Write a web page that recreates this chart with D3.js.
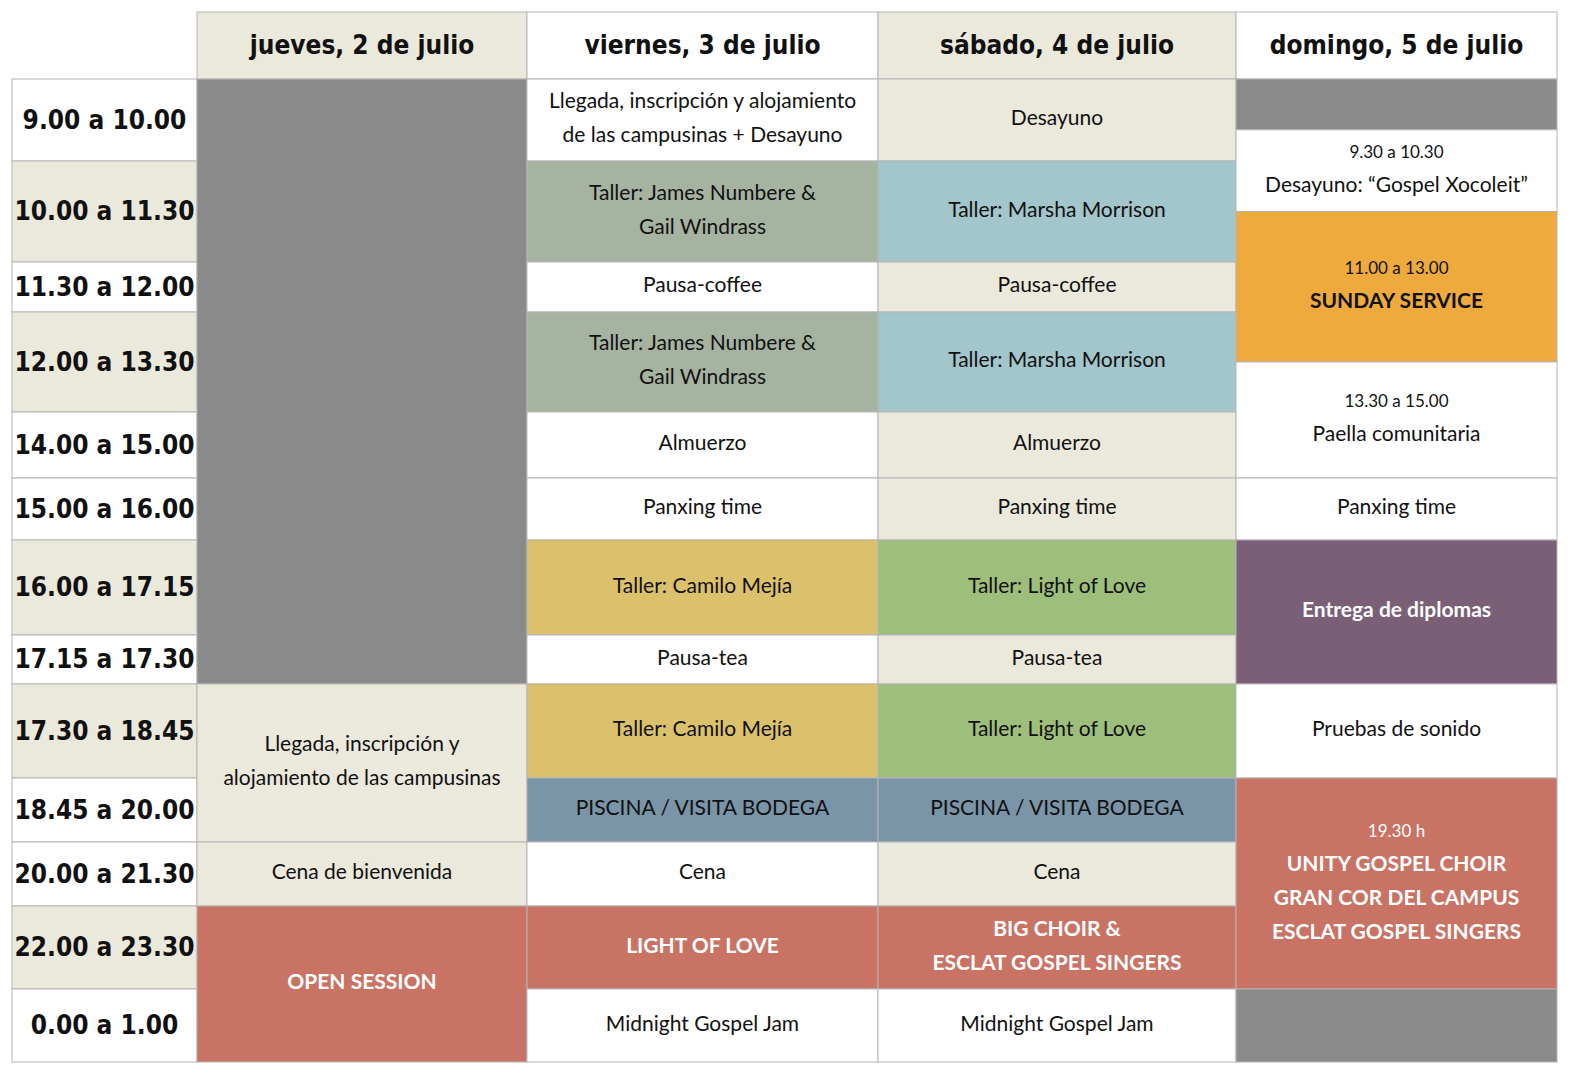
<!DOCTYPE html>
<html><head><meta charset="utf-8">
<script src="https://cdn.jsdelivr.net/npm/d3@7"></script>
<style>body{margin:0;background:#fff}</style></head>
<body><svg id="c" width="1586" height="1086"></svg>
<script>
const days = ["jueves, 2 de julio","viernes, 3 de julio","sábado, 4 de julio","domingo, 5 de julio"];
const dayFill = ["beige","white","beige","white"];
const times = ["9.00 a 10.00","10.00 a 11.30","11.30 a 12.00","12.00 a 13.30","14.00 a 15.00","15.00 a 16.00","16.00 a 17.15","17.15 a 17.30","17.30 a 18.45","18.45 a 20.00","20.00 a 21.30","22.00 a 23.30","0.00 a 1.00"];
const timeFill = ["white","beige","white","beige","white","white","beige","white","beige","white","white","beige","white"];
const rowWeights = [82,101,50,100,66,62,95,49,94,64,64,83,73];
const palette = {white:"#ffffff",beige:"#ebe8dc",gray:"#8a8a8a",sage:"#a6b3a1",sky:"#a3c5cc",yellow:"#dcc16d",green:"#9ebf7b",steel:"#7a94a8",red:"#c97365",orange:"#eeaa3d",purple:"#7a5f77"};
// [day, startRow, endRow, fill, small, lines, style]
const jueves = [
 [0,0,8,"gray","",[],""],
 [0,8,10,"beige","",["Llegada, inscripción y","alojamiento de las campusinas"],""],
 [0,10,11,"beige","",["Cena de bienvenida"],""],
 [0,11,13,"red","",["OPEN SESSION"],"bw"]];
const viernes = [
 [1,0,1,"white","",["Llegada, inscripción y alojamiento","de las campusinas + Desayuno"],""],
 [1,1,2,"sage","",["Taller: James Numbere &","Gail Windrass"],""],
 [1,2,3,"white","",["Pausa-coffee"],""],
 [1,3,4,"sage","",["Taller: James Numbere &","Gail Windrass"],""],
 [1,4,5,"white","",["Almuerzo"],""],
 [1,5,6,"white","",["Panxing time"],""],
 [1,6,7,"yellow","",["Taller: Camilo Mejía"],""],
 [1,7,8,"white","",["Pausa-tea"],""],
 [1,8,9,"yellow","",["Taller: Camilo Mejía"],""],
 [1,9,10,"steel","",["PISCINA  /  VISITA BODEGA"],""],
 [1,10,11,"white","",["Cena"],""],
 [1,11,12,"red","",["LIGHT OF LOVE"],"bw"],
 [1,12,13,"white","",["Midnight Gospel Jam"],""]];
const sabado = [
 [2,0,1,"beige","",["Desayuno"],""],
 [2,1,2,"sky","",["Taller: Marsha Morrison"],""],
 [2,2,3,"beige","",["Pausa-coffee"],""],
 [2,3,4,"sky","",["Taller: Marsha Morrison"],""],
 [2,4,5,"beige","",["Almuerzo"],""],
 [2,5,6,"beige","",["Panxing time"],""],
 [2,6,7,"green","",["Taller: Light of Love"],""],
 [2,7,8,"beige","",["Pausa-tea"],""],
 [2,8,9,"green","",["Taller: Light of Love"],""],
 [2,9,10,"steel","",["PISCINA / VISITA BODEGA"],""],
 [2,10,11,"beige","",["Cena"],""],
 [2,11,12,"red","",["BIG CHOIR &","ESCLAT GOSPEL SINGERS"],"bw"],
 [2,12,13,"white","",["Midnight Gospel Jam"],""]];
const domingo = [
 [3,0,0.62,"gray","",[],""],
 [3,0.62,1.5,"white","9.30 a 10.30",["Desayuno: “Gospel Xocoleit”"],""],
 [3,1.5,3.5,"orange","11.00 a 13.00",["SUNDAY SERVICE"],"bd"],
 [3,3.5,5,"white","13.30 a 15.00",["Paella comunitaria"],""],
 [3,5,6,"white","",["Panxing time"],""],
 [3,6,8,"purple","",["Entrega de diplomas"],"bw"],
 [3,8,9,"white","",["Pruebas de sonido"],""],
 [3,9,12,"red","19.30 h",["UNITY GOSPEL CHOIR","GRAN COR DEL CAMPUS","ESCLAT GOSPEL SINGERS"],"bw"],
 [3,12,13,"gray","",[],""]];

(function(){
const svg = d3.select("#c");
const colEdges = [197,527,878,1236,1557];
const x = d3.scaleLinear().domain([0,1,2,3,4]).range(colEdges);
const topY = 79, bottomY = 1062, leftX = 12;
const cum = [0]; rowWeights.forEach(w=>cum.push(cum[cum.length-1]+w));
const yk = d3.scaleLinear().domain([0,cum[cum.length-1]]).range([topY,bottomY]);
const y = d3.scaleLinear().domain(d3.range(14)).range(cum.map(c=>yk(c)));
const stroke = "#b5b5b5";
const headFont = "'Liberation Sans Narrow','DejaVu Sans Condensed',sans-serif";
const bodyFont = "Lato,'Open Sans',sans-serif";

days.forEach((d,i)=>{
  svg.append("rect").attr("x",x(i)).attr("y",12).attr("width",x(i+1)-x(i)).attr("height",topY-12)
   .attr("fill",palette[dayFill[i]]).attr("stroke",stroke);
  svg.append("text").attr("x",(x(i)+x(i+1))/2).attr("y",46).attr("text-anchor","middle").attr("dominant-baseline","middle")
   .attr("font-family",headFont).attr("font-weight","bold").attr("font-size",26).attr("fill","#111").text(d);
});
times.forEach((t,i)=>{
  svg.append("rect").attr("x",leftX).attr("y",y(i)).attr("width",colEdges[0]-leftX).attr("height",y(i+1)-y(i))
   .attr("fill",palette[timeFill[i]]).attr("stroke",stroke);
  svg.append("text").attr("x",(leftX+colEdges[0])/2).attr("y",(y(i)+y(i+1))/2+1).attr("text-anchor","middle").attr("dominant-baseline","middle")
   .attr("font-family",headFont).attr("font-weight","bold").attr("font-size",26).attr("fill","#111").text(t);
});
const cells = [...jueves,...viernes,...sabado,...domingo];
cells.forEach(([d,s,e,fill,small,lines,st])=>{
  const x0=x(d), x1=x(d+1), y0=y(s), y1=y(e);
  svg.append("rect").attr("x",x0).attr("y",y0).attr("width",x1-x0).attr("height",y1-y0)
    .attr("fill",palette[fill]).attr("stroke",stroke);
  const lh=34, sh=small?32:0;
  const total=sh+lines.length*lh;
  let cy=(y0+y1)/2-total/2;
  const color = st==="bw"?"#fff":"#111";
  const weight = st?"bold":"normal";
  if(small){
    svg.append("text").attr("x",(x0+x1)/2).attr("y",cy+sh/2).attr("text-anchor","middle").attr("dominant-baseline","middle")
      .attr("font-family",bodyFont).attr("font-size",17).attr("fill",color).text(small);
    cy+=sh;
  }
  lines.forEach((l,k)=>{
    svg.append("text").attr("x",(x0+x1)/2).attr("y",cy+lh*k+lh/2).attr("text-anchor","middle").attr("dominant-baseline","middle")
      .attr("font-family",bodyFont).attr("font-weight",weight).attr("font-size",21).attr("fill",color).text(l);
  });
});
})();
</script></body></html>
